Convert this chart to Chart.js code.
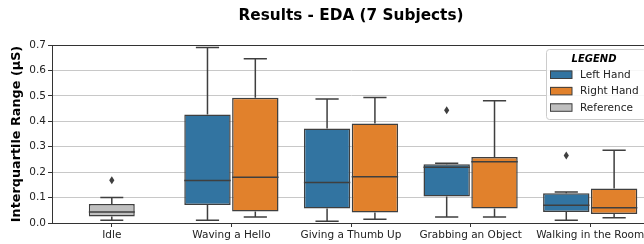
<!DOCTYPE html>
<html>
<head>
<meta charset="utf-8">
<script src="https://cdn.jsdelivr.net/npm/chart.js@4/dist/chart.umd.min.js"></script>
<style>
  html, body { margin: 0; padding: 0; background: #fff; overflow: hidden; }
  canvas { display: block; }
</style>
</head>
<body>
<canvas id="grafik" width="656" height="244"></canvas>
<script>
// kategori & nilai
const categories = ["Idle", "Waving a Hello", "Giving a Thumb Up", "Grabbing an Object", "Walking in the Room"];

const leftMin = [null, 0.011, 0.007, 0.024, 0.011];
const leftQ1  = [null, 0.071, 0.057, 0.104, 0.043];
const leftMed = [null, 0.167, 0.159, 0.219, 0.070];
const leftQ3  = [null, 0.427, 0.372, 0.231, 0.117];
const leftMax = [null, 0.690, 0.488, 0.235, 0.122];
const leftOut = [[], [], [], [0.443], [0.265]];

const rightMin = [null, 0.024, 0.015, 0.024, 0.021];
const rightQ1  = [null, 0.045, 0.041, 0.057, 0.035];
const rightMed = [null, 0.180, 0.182, 0.241, 0.060];
const rightQ3  = [null, 0.493, 0.391, 0.260, 0.136];
const rightMax = [null, 0.646, 0.494, 0.481, 0.286];
const rightOut = [[], [], [], [], []];

const refMin = [0.011, null, null, null, null];
const refQ1  = [0.026, null, null, null, null];
const refMed = [0.043, null, null, null, null];
const refQ3  = [0.075, null, null, null, null];
const refMax = [0.100, null, null, null, null];
const refOut = [[0.168], [], [], [], []];

const yTicks = [0, 0.1, 0.2, 0.3, 0.4, 0.5, 0.6, 0.7];

const LINE = "#3f3f3f";
const FONT = "'DejaVu Sans', sans-serif";

const boxes = (q1, q3) => q1.map((v, i) => v == null ? null : [v, q3[i]]);

const stats = [
  { min: leftMin, med: leftMed, max: leftMax, out: leftOut },
  { min: rightMin, med: rightMed, max: rightMax, out: rightOut },
  { min: refMin, med: refMed, max: refMax, out: refOut }
];

// gambar whisker, median, outlier di atas box
const boxPlugin = {
  id: "boxplot",
  afterDatasetsDraw(c) {
    const ctx = c.ctx, y = c.scales.y;
    ctx.save();
    ctx.strokeStyle = LINE; ctx.fillStyle = LINE; ctx.lineWidth = 1.5;
    stats.forEach((s, di) => {
      const meta = c.getDatasetMeta(di);
      meta.data.forEach((bar, i) => {
        if (s.med[i] == null) return;
        const { x, width } = bar.getProps(["x", "width"], true);
        const top = y.getPixelForValue(c.data.datasets[di].data[i][1]);
        const bot = y.getPixelForValue(c.data.datasets[di].data[i][0]);
        const yMin = y.getPixelForValue(s.min[i]), yMax = y.getPixelForValue(s.max[i]);
        const half = width / 2, cap = width / 4;
        ctx.beginPath();
        ctx.moveTo(x, top); ctx.lineTo(x, yMax);
        ctx.moveTo(x - cap, yMax); ctx.lineTo(x + cap, yMax);
        ctx.moveTo(x, bot); ctx.lineTo(x, yMin);
        ctx.moveTo(x - cap, yMin); ctx.lineTo(x + cap, yMin);
        const ym = y.getPixelForValue(s.med[i]);
        ctx.moveTo(x - half, ym); ctx.lineTo(x + half, ym);
        ctx.stroke();
        s.out[i].forEach(v => {
          const py = y.getPixelForValue(v);
          ctx.beginPath();
          ctx.moveTo(x, py - 4); ctx.lineTo(x + 2.6, py); ctx.lineTo(x, py + 4); ctx.lineTo(x - 2.6, py);
          ctx.closePath(); ctx.fill();
        });
      });
    });
    ctx.restore();
  },
  afterDraw(c) {
    const ctx = c.ctx, a = c.chartArea;
    ctx.save();
    // bingkai sumbu
    ctx.strokeStyle = "#333"; ctx.lineWidth = 1;
    ctx.strokeRect(a.left + 0.5, a.top + 0.5, a.right - a.left, a.bottom - a.top);
    // judul
    ctx.fillStyle = "#000"; ctx.textAlign = "center"; ctx.textBaseline = "middle";
    ctx.font = "bold 15.3px " + FONT;
    ctx.fillText("Results - EDA (7 Subjects)", (a.left + a.right) / 2, 16);
    // legend
    const lx = 546, ly = 49, lw = 100, lh = 70;
    ctx.fillStyle = "rgba(255,255,255,0.85)"; ctx.strokeStyle = "#cccccc";
    ctx.beginPath(); ctx.roundRect(lx + 0.5, ly + 0.5, lw, lh, 3); ctx.fill(); ctx.stroke();
    ctx.fillStyle = "#000"; ctx.font = "italic bold 10px " + FONT;
    ctx.fillText("LEGEND", 594, 59);
    ctx.textAlign = "left"; ctx.font = "10.5px " + FONT;
    c.data.datasets.forEach((d, i) => {
      const cy = 74.5 + i * 16.4;
      ctx.fillStyle = d.backgroundColor; ctx.fillRect(550, cy - 4, 22, 8);
      ctx.strokeStyle = LINE; ctx.lineWidth = 1; ctx.strokeRect(550.5, cy - 3.5, 21.5, 7.5);
      ctx.fillStyle = "#222"; ctx.fillText(d.label, 580, cy + 0.5);
    });
    ctx.restore();
  }
};

new Chart(document.getElementById("grafik"), {
  type: "bar",
  data: {
    labels: categories,
    datasets: [
      { label: "Left Hand", data: boxes(leftQ1, leftQ3), backgroundColor: "#3274a1" },
      { label: "Right Hand", data: boxes(rightQ1, rightQ3), backgroundColor: "#e1812c" },
      { label: "Reference", data: boxes(refQ1, refQ3), backgroundColor: "#bfbfbf", barPercentage: 0.48 }
    ]
  },
  options: {
    responsive: false, animation: false, devicePixelRatio: 1,
    layout: { padding: { top: 45, right: 6, left: 0, bottom: 0 } },
    datasets: { bar: { borderColor: LINE, borderWidth: 1.5, borderSkipped: false, skipNull: true, categoryPercentage: 0.8, barPercentage: 0.97 } },
    plugins: { legend: { display: false }, tooltip: { enabled: false } },
    scales: {
      x: {
        ticks: { color: "#222", font: { family: FONT, size: 10.5 }, padding: 2, maxRotation: 0, autoSkip: false },
        grid: { offset: false, drawOnChartArea: false, tickLength: 4, tickColor: "#333" },
        border: { color: "#333" },
        afterFit: s => { s.height = 21; }
      },
      y: {
        min: 0, max: 0.7, z: 1,
        afterBuildTicks: s => { s.ticks = yTicks.map(v => ({ value: v })); },
        ticks: { color: "#222", font: { family: FONT, size: 10.5 }, padding: 2, callback: v => v.toFixed(1) },
        grid: { color: "#c8c8c8", tickLength: 4, tickColor: "#333" },
        border: { color: "#333" },
        title: { display: true, text: "Interquartile Range (µS)", color: "#000", font: { family: FONT, size: 12.8, weight: "bold" }, padding: { top: 9, bottom: 0 } },
        afterFit: s => { s.width = 52; }
      }
    }
  },
  plugins: [boxPlugin]
});
</script>
</body>
</html>
